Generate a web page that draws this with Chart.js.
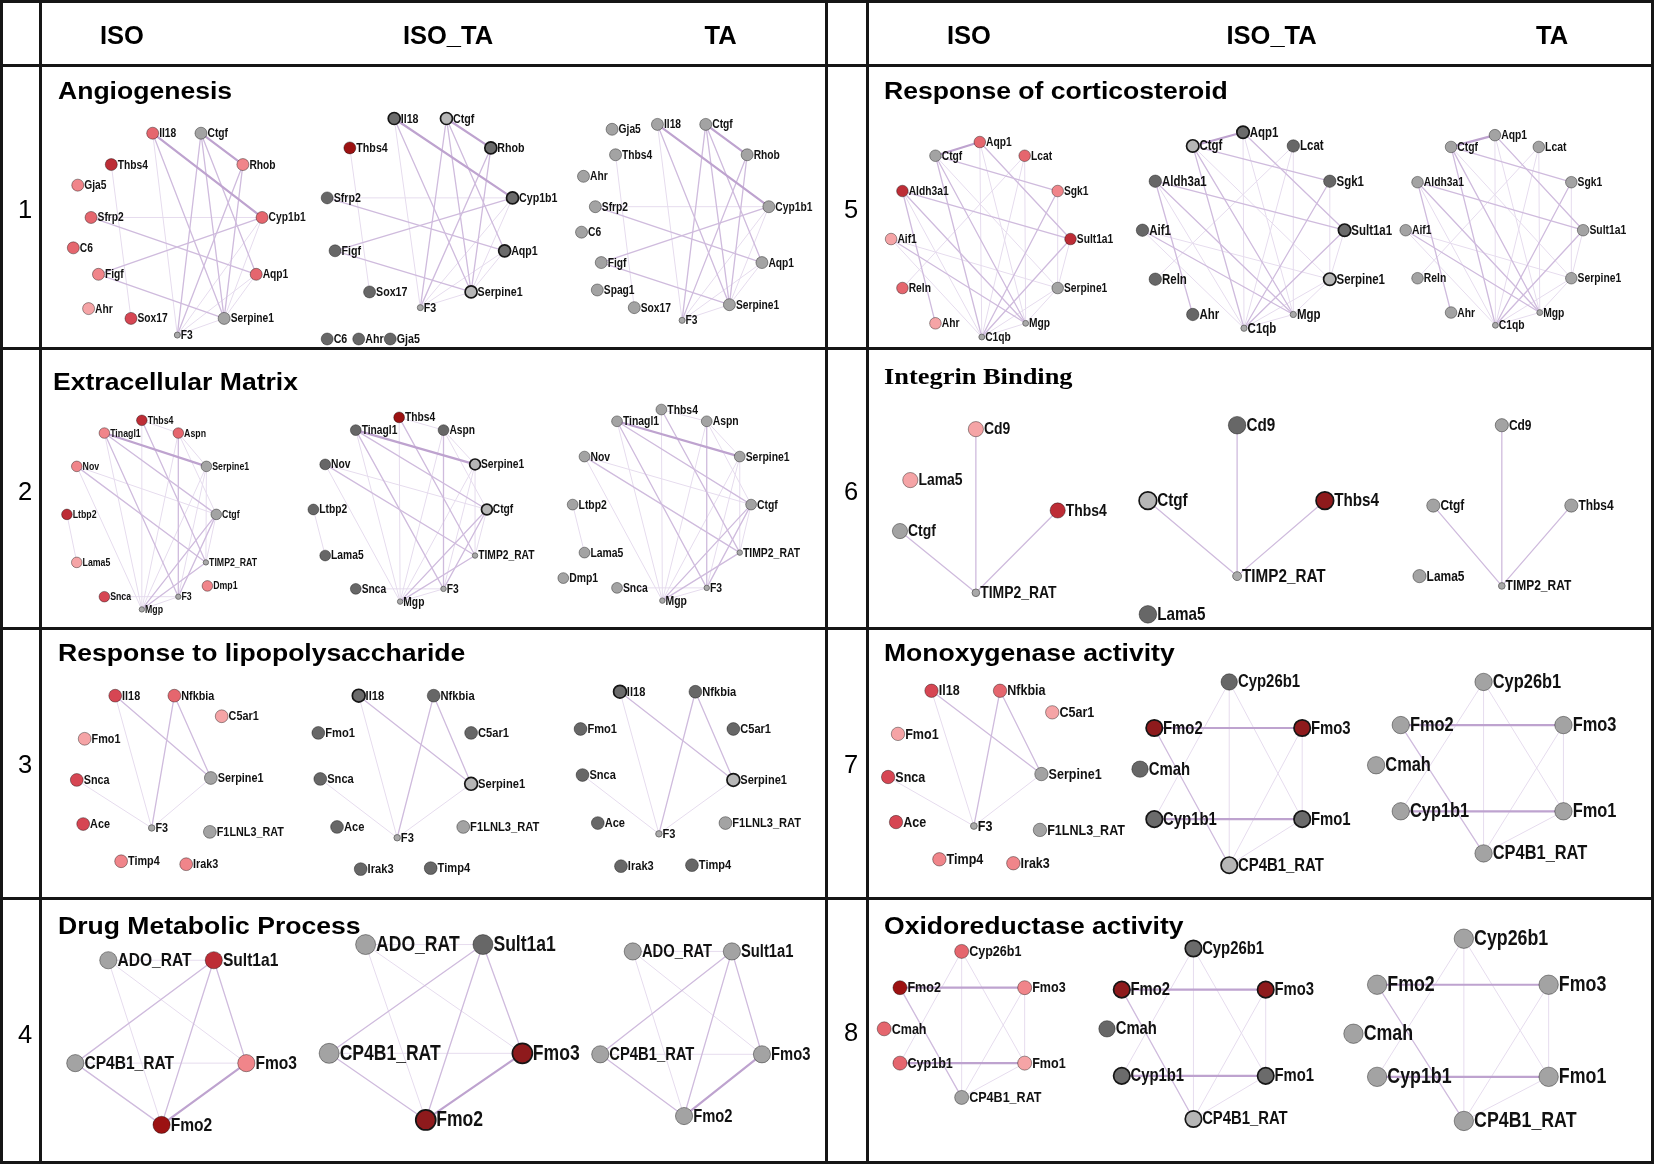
<!DOCTYPE html>
<html><head><meta charset="utf-8">
<script src="https://cdn.jsdelivr.net/npm/chart.js@4/dist/chart.umd.min.js"></script>
<style>
html,body{margin:0;padding:0;background:#fff;}
#wrap{position:relative;width:1654px;height:1164px;overflow:hidden;font-family:'Liberation Sans',Arial,sans-serif;color:#000;}
#c{position:absolute;left:0;top:0;}
.ln{position:absolute;background:#161616;}
.hd{position:absolute;font-weight:bold;font-size:25.5px;line-height:1;transform:translate(-50%,-50%);white-space:nowrap;}
.num{position:absolute;font-size:25.5px;line-height:1;transform:translate(-50%,-50%);}
.ttl{position:absolute;font-weight:bold;font-size:23.5px;line-height:1;transform-origin:0 50%;transform:translateY(-50%) scaleX(1.13);white-space:nowrap;}
.serif{font-family:'Liberation Serif','Times New Roman',serif;font-size:24px;transform:translateY(-50%) scaleX(1.1);}
</style></head>
<body><div id="wrap"><canvas id="c" width="1654" height="1164" style="width:1654px;height:1164px"></canvas></div>
<script>
// ---------------- DATA ----------------
const conditions = ['ISO', 'ISO_TA', 'TA'];
const panelNumbers = ['1', '2', '3', '4', '5', '6', '7', '8'];
const panelTitles = ['Angiogenesis', 'Extracellular Matrix', 'Response to lipopolysaccharide', 'Drug Metabolic Process',
  'Response of corticosteroid', 'Integrin Binding', 'Monoxygenase activity', 'Oxidoreductase activity'];

// node: [gene, layoutX, layoutY, expression class]
// classes: r0..r5 = up-regulated (light -> dark red), g = unchanged, d = down/other, L/D/R = highlighted, s = not measured
const angioISO = [['Il18',143,124,'r2'],['Ctgf',192,124,'g'],['Thbs4',101,156,'r4'],['Rhob',234.5,156,'r1'],['Gja5',67,177,'r1'],
  ['Sfrp2',80.5,210,'r2'],['Cyp1b1',254,210,'r2'],['C6',62.5,241,'r2'],['Figf',88,268,'r1'],['Aqp1',248,268,'r2'],
  ['Ahr',78,303,'r0'],['Sox17',121,313,'r3'],['Serpine1',215.5,313,'g'],['F3',168,330,'s']];
const angioISOTA = [['Il18',388,109,'D'],['Ctgf',441,109,'L'],['Thbs4',343,139,'r5'],['Rhob',486,139,'D'],['Sfrp2',320,190,'d'],
  ['Cyp1b1',508,190,'D'],['Figf',328,244,'d'],['Aqp1',500,244,'D'],['Sox17',363,286,'d'],['Serpine1',466,286,'L'],
  ['F3',414.5,302,'s'],['C6',320,334,'d'],['Ahr',352,334,'d'],['Gja5',384,334,'d']];
const angioTA = [['Gja5',609,120,'g'],['Il18',655,115,'g'],['Ctgf',704,115,'g'],['Thbs4',612.5,146,'g'],['Rhob',746,146,'g'],
  ['Ahr',580,168,'g'],['Sfrp2',592,199,'g'],['Cyp1b1',768,199,'g'],['C6',578,225,'g'],['Figf',598,256,'g'],
  ['Aqp1',761,256,'g'],['Spag1',594,284,'g'],['Sox17',631.5,302,'g'],['Serpine1',728,299,'g'],['F3',680,315,'s']];

const ecmISO = [['Thbs4',132,417,'r4'],['Tinagl1',94,430,'r1'],['Aspn',169,430,'r2'],['Nov',66,464,'r1'],['Serpine1',197.5,464,'g'],
  ['Ltbp2',56,513,'r4'],['Ctgf',207.5,513,'g'],['Lama5',66,562,'r0'],['TIMP2_RAT',197,562,'s'],['Dmp1',198.5,586,'r1'],
  ['Snca',94,597,'r3'],['F3',169,597,'s'],['Mgp',132,610,'s']];
const ecmISOTA = [['Thbs4',393,414,'r5'],['Tinagl1',349,427,'d'],['Aspn',438,427,'d'],['Nov',318,462,'d'],['Serpine1',470,462,'L'],
  ['Ltbp2',306,508,'d'],['Ctgf',482,508,'L'],['Lama5',318,555,'d'],['TIMP2_RAT',470,555,'s'],['Snca',349,589,'d'],
  ['F3',438,589,'s'],['Mgp',394,602,'s']];
const ecmTA = [['Thbs4',659,406,'g'],['Tinagl1',614,418,'g'],['Aspn',705,418,'g'],['Nov',581,454,'g'],['Serpine1',738.5,454,'g'],
  ['Ltbp2',569,503,'g'],['Ctgf',750,503,'g'],['Lama5',581,552,'g'],['TIMP2_RAT',738.5,552,'s'],['Dmp1',559.5,578,'g'],
  ['Snca',614,588,'g'],['F3',705,588,'s'],['Mgp',660,601,'s']];

const lpsISO = [['Il18',105,698,'r3'],['Nfkbia',165,698,'r2'],['C5ar1',213,719,'r0'],['Fmo1',74,742,'r0'],['Serpine1',202,782,'g'],
  ['Snca',66,784,'r3'],['Ace',72.5,829,'r3'],['F3',142,833,'s'],['F1LNL3_RAT',201,837,'g'],['Timp4',111,867,'r1'],['Irak3',177,870,'r1']];
const lpsISOTA = [['Il18',352,698,'D'],['Nfkbia',428,698,'d'],['Fmo1',311,736,'d'],['C5ar1',466,736,'d'],['Snca',313,783,'d'],
  ['Serpine1',466,788,'L'],['Ace',330,832,'d'],['F3',391,843,'s'],['F1LNL3_RAT',458,832,'g'],['Irak3',354,875,'d'],['Timp4',425,874,'d']];
const lpsTA = [['Il18',617,694,'D'],['Nfkbia',693.5,694,'d'],['Fmo1',577,732,'d'],['C5ar1',732,732,'d'],['Snca',579,779,'d'],
  ['Serpine1',732,784,'L'],['Ace',594.5,828,'d'],['F3',656.5,839,'s'],['F1LNL3_RAT',724,828,'g'],['Irak3',618,872,'d'],['Timp4',690,871,'d']];

const drugISO = [['ADO_RAT',98,968,'g'],['Sult1a1',205,968,'r4'],['CP4B1_RAT',64.5,1073,'g'],['Fmo3',238,1073,'r1'],['Fmo2',152,1136,'r5']];
const drugISOTA = [['ADO_RAT',359,952,'g'],['Sult1a1',478,952,'d'],['CP4B1_RAT',322,1063,'g'],['Fmo3',518,1063,'R'],['Fmo2',420,1131,'R']];
const drugTA = [['ADO_RAT',630,959,'g'],['Sult1a1',730.5,959,'g'],['CP4B1_RAT',597,1064,'g'],['Fmo3',761,1064,'g'],['Fmo2',682,1127,'g']];

const cortISO = [['Ctgf',937,147,'g'],['Aqp1',982,133,'r2'],['Lcat',1027.5,147,'r2'],['Aldh3a1',903.5,183,'r4'],['Sgk1',1061,183,'r1'],
  ['Aif1',892,232,'r0'],['Sult1a1',1074,232,'r4'],['Reln',903.5,282,'r2'],['Serpine1',1061,282,'g'],['Ahr',937,318,'r0'],
  ['Mgp',1028.5,318,'s'],['C1qb',984,332,'s']];
const cortISOTA = [['Aqp1',1249,123,'D'],['Ctgf',1198,137,'L'],['Lcat',1300,137,'d'],['Aldh3a1',1160,173,'d'],['Sgk1',1337,173,'d'],
  ['Aif1',1147,223,'d'],['Sult1a1',1352,223,'D'],['Reln',1160,273,'d'],['Serpine1',1337,273,'L'],['Ahr',1198,309,'d'],
  ['Mgp',1300,309,'s'],['C1qb',1250,323,'s']];
const cortTA = [['Aqp1',1504.5,126,'g'],['Ctgf',1460,138,'g'],['Lcat',1549,138,'g'],['Aldh3a1',1426,174,'g'],['Sgk1',1582,174,'g'],
  ['Aif1',1414,223,'g'],['Sult1a1',1594,223,'g'],['Reln',1426,272,'g'],['Serpine1',1582,272,'g'],['Ahr',1460,307,'g'],
  ['Mgp',1550,307,'s'],['C1qb',1505,320,'s']];

const intISO = [['Cd9',978,426,'r0'],['Lama5',911.5,478,'r0'],['Thbs4',1061,509,'r4'],['Ctgf',901,530,'g'],['TIMP2_RAT',978,593,'s']];
const intISOTA = [['Cd9',1243,422,'d'],['Ctgf',1152.5,499,'L'],['Thbs4',1332,499,'R'],['TIMP2_RAT',1243,576,'s'],['Lama5',1152.5,615,'d']];
const intTA = [['Cd9',1511.5,422,'g'],['Ctgf',1442,504,'g'],['Thbs4',1582,504,'g'],['Lama5',1428,576,'g'],['TIMP2_RAT',1511.5,586,'s']];

const monoISO = [['Il18',933,693,'r3'],['Nfkbia',1002.5,693,'r2'],['C5ar1',1055.5,715,'r0'],['Fmo1',899,737,'r0'],['Serpine1',1044.5,778,'g'],
  ['Snca',889,781,'r3'],['Ace',897,827,'r3'],['F3',976,831,'s'],['F1LNL3_RAT',1043,835,'g'],['Timp4',941,865,'r1'],['Irak3',1016,869,'r1']];
const monoISOTA = [['Cyp26b1',1235,684,'d'],['Fmo2',1159,731,'R'],['Fmo3',1309,731,'R'],['Cmah',1144.5,773,'d'],['Cyp1b1',1159,824,'D'],
  ['Fmo1',1309,824,'D'],['CP4B1_RAT',1235,871,'L']];
const monoTA = [['Cyp26b1',1493,684,'g'],['Fmo2',1409,728,'g'],['Fmo3',1574,728,'g'],['Cmah',1384,769,'g'],['Cyp1b1',1409,816,'g'],
  ['Fmo1',1574,816,'g'],['CP4B1_RAT',1493,859,'g']];

const oxiISO = [['Cyp26b1',963.6,959,'r2'],['Fmo2',901,996,'r5'],['Fmo3',1027.5,996,'r1'],['Cmah',885,1038,'r2'],['Cyp1b1',901,1073,'r2'],
  ['Fmo1',1027.5,1073,'r0'],['CP4B1_RAT',963.6,1108,'g']];
const oxiISOTA = [['Cyp26b1',1198.7,956,'D'],['Fmo2',1126,998,'R'],['Fmo3',1272,998,'R'],['Cmah',1111,1038,'d'],['Cyp1b1',1126,1086,'D'],
  ['Fmo1',1272,1086,'D'],['CP4B1_RAT',1198.7,1130,'L']];
const oxiTA = [['Cyp26b1',1473,946,'g'],['Fmo2',1385,993,'g'],['Fmo3',1559,993,'g'],['Cmah',1361,1043,'g'],['Cyp1b1',1385,1087,'g'],
  ['Fmo1',1559,1087,'g'],['CP4B1_RAT',1473,1132,'g']];

// edges: [geneA, geneB, interaction strength 1..3]
const angioEdges = [['Il18','Cyp1b1',3],['Il18','Serpine1',2],['Il18','F3',1],['Ctgf','Rhob',3],['Ctgf','F3',2],['Ctgf','Serpine1',2],
  ['Ctgf','Aqp1',2],['Rhob','F3',2],['Rhob','Serpine1',2],['Thbs4','Sox17',1],['Sfrp2','Cyp1b1',1],['Sfrp2','Aqp1',2],
  ['Figf','Cyp1b1',2],['Figf','Serpine1',2],['Cyp1b1','Serpine1',1],['Cyp1b1','F3',1],['Aqp1','F3',1],['Aqp1','Serpine1',1],['Serpine1','F3',1]];
const ecmEdges = [['Thbs4','Aspn',1],['Thbs4','Mgp',1],['Thbs4','TIMP2_RAT',2],['Tinagl1','Serpine1',3],['Tinagl1','Ctgf',2],
  ['Tinagl1','F3',2],['Tinagl1','Mgp',1],['Aspn','Serpine1',1],['Aspn','Ctgf',1],['Aspn','Mgp',1],
  ['Aspn','F3',2],['Nov','Ctgf',1],['Nov','TIMP2_RAT',2],['Serpine1','Mgp',1],['Serpine1','F3',1],
  ['Serpine1','TIMP2_RAT',1],['Ltbp2','Lama5',1],['Nov','Mgp',1],['Ctgf','Mgp',2],['Ctgf','F3',2],['Ctgf','TIMP2_RAT',1],
  ['Snca','F3',1],['Mgp','F3',1],['Mgp','TIMP2_RAT',2]];
const lpsEdges = [['Il18','Serpine1',2],['Il18','F3',1],['Nfkbia','F3',2],['Nfkbia','Serpine1',2],['Snca','F3',1],['Serpine1','F3',1]];
const drugEdges = [['ADO_RAT','Sult1a1',1],['ADO_RAT','Fmo2',1],['ADO_RAT','Fmo3',1],['Sult1a1','CP4B1_RAT',2],['Sult1a1','Fmo2',2],
  ['Sult1a1','Fmo3',2],['CP4B1_RAT','Fmo3',1],['CP4B1_RAT','Fmo2',2],['Fmo3','Fmo2',3]];
const cortEdges = [['Ctgf','Aqp1',3],['Ctgf','Sgk1',2],['Ctgf','C1qb',2],['Ctgf','Mgp',2],['Aqp1','Sult1a1',2],['Aqp1','C1qb',1],
  ['Aqp1','Mgp',1],['Lcat','Reln',1],['Lcat','Mgp',1],['Lcat','C1qb',1],['Aldh3a1','Sult1a1',2],['Aldh3a1','Ahr',2],
  ['Aldh3a1','Mgp',2],['Aldh3a1','C1qb',1],['Sgk1','C1qb',2],['Sgk1','Serpine1',1],['Aif1','Mgp',2],['Aif1','C1qb',1],
  ['Aif1','Serpine1',1],['Sult1a1','C1qb',2],['Sult1a1','Serpine1',1],['Serpine1','C1qb',1],['Serpine1','Mgp',1],['Mgp','C1qb',1],['Ctgf','Serpine1',1]];
const intEdges = [['Cd9','TIMP2_RAT',2],['Thbs4','TIMP2_RAT',2],['Ctgf','TIMP2_RAT',2]];
const monoEdges = [['Fmo2','Fmo3',3],['Cyp1b1','Fmo1',3],['Cyp26b1','Cyp1b1',1],['Cyp26b1','Fmo1',1],['Cyp26b1','CP4B1_RAT',1],
  ['Fmo2','CP4B1_RAT',2],['Fmo3','CP4B1_RAT',1],['Fmo3','Fmo1',1],['Fmo1','CP4B1_RAT',1]];

// ---------------- ASSEMBLY ----------------
const panelEdges = [angioEdges, ecmEdges, lpsEdges, drugEdges, cortEdges, intEdges, lpsEdges.concat(monoEdges), monoEdges];
const networks = [
  [angioISO,0],[angioISOTA,0],[angioTA,0], [ecmISO,1],[ecmISOTA,1],[ecmTA,1],
  [lpsISO,2],[lpsISOTA,2],[lpsTA,2], [drugISO,3],[drugISOTA,3],[drugTA,3],
  [cortISO,4],[cortISOTA,4],[cortTA,4], [intISO,5],[intISOTA,5],[intTA,5],
  [monoISO,6],[monoISOTA,6],[monoTA,6], [oxiISO,7],[oxiISOTA,7],[oxiTA,7]];

// ---------------- STYLE ----------------
const netStyle = [ // [node radius, label font px, label clip right (px or 0)] per network, same order as networks
  [6,12.5,0],[6,13,0],[6,12.5,0], [5.3,10.7,0],[5.4,12.5,0],[5.4,12.7,0],
  [6.4,13.2,0],[6.4,13.6,0],[6.4,13.5,0], [8.6,19,0],[10,21.4,0],[8.6,18,0],
  [5.8,12.5,0],[6.2,14,0],[5.8,12.6,0], [7.6,17,0],[8.8,18.6,0],[6.6,14.6,0],
  [6.7,15.3,1127],[8.2,18.2,0],[8.7,20,0], [7,15.3,0],[8.2,18.1,0],[9.7,21.7,0]];
const fillOf = {r0:'#f5a4a6',r1:'#f0858a',r2:'#e5666e',r3:'#d64653',r4:'#bd2d36',r5:'#9c1212',
  g:'#a3a3a3',d:'#676767',L:'#b6b6b6',D:'#6b6b6b',R:'#8e1a1c',s:'#a9a9a9'};
const edgeStyle = {1:['#e6dcee',1],2:['#cfbbdd',1.3],3:['#bea3cf',2.2]};

const headerX = [122,448,720.5,969,1271.6,1552], headerY = 36;
const numPos = [[25,210],[25,492],[25,765],[25,1035],[851,210],[851,492],[851,765],[851,1033]];
const titlePos = [[58,92],[53,383],[58,654],[58,927],[884,92],[884,376],[884,654],[884,927]];
const hLines = [0,64,347,627,897,1161], vLines = [0,39,825,866,1651];

// ---------------- HTML frame ----------------
const wrap = document.getElementById('wrap');
function el(cls, txt, css){ const d=document.createElement('div'); d.className=cls; if(txt!==null) d.textContent=txt; Object.assign(d.style, css); wrap.appendChild(d); return d; }
hLines.forEach(y=>el('ln',null,{left:'0px',top:y+'px',width:'1654px',height:'3px'}));
vLines.forEach(x=>el('ln',null,{left:x+'px',top:'0px',width:'3px',height:'1164px'}));
headerX.forEach((x,i)=>el('hd',conditions[i%3],{left:x+'px',top:headerY+'px'}));
numPos.forEach((p,i)=>el('num',panelNumbers[i],{left:p[0]+'px',top:p[1]+'px'}));
titlePos.forEach((p,i)=>el(i===5?'ttl serif':'ttl',panelTitles[i],{left:p[0]+'px',top:p[1]+'px'}));

// ---------------- Chart ----------------
const datasets = networks.map(([nodes,p],k)=>{
  const [r] = netStyle[k];
  const hl = n => (n[3]==='L'||n[3]==='D'||n[3]==='R');
  return {
    label: panelTitles[p]+' '+conditions[k%3],
    data: nodes.map(n=>({x:n[1], y:n[2], gene:n[0]})),
    pointRadius: nodes.map(n=> n[3]==='s' ? r*0.5 : r),
    pointHoverRadius: nodes.map(n=> n[3]==='s' ? r*0.5 : r),
    pointBackgroundColor: nodes.map(n=>fillOf[n[3]]),
    pointBorderColor: nodes.map(n=> hl(n) ? '#151515' : (n[3]==='s' ? '#6f6f6f' : 'rgba(0,0,0,0.38)')),
    pointBorderWidth: nodes.map(n=> hl(n) ? 1.7 : 1),
    showLine:false, clip:false
  };
});

const edgePlugin = {
  id:'edges',
  beforeDatasetsDraw(chart){
    const ctx = chart.ctx, xs = chart.scales.x, ys = chart.scales.y;
    ctx.save(); ctx.lineCap='round';
    networks.forEach(([nodes,p])=>{
      const pos = {}; nodes.forEach(n=>pos[n[0]]=n);
      const list = panelEdges[p].filter(e=>pos[e[0]]&&pos[e[1]]).sort((a,b)=>a[2]-b[2]);
      list.forEach(e=>{
        const a=pos[e[0]], b=pos[e[1]], st=edgeStyle[e[2]];
        ctx.strokeStyle=st[0]; ctx.lineWidth=st[1];
        ctx.beginPath();
        ctx.moveTo(xs.getPixelForValue(a[1]), ys.getPixelForValue(a[2]));
        ctx.lineTo(xs.getPixelForValue(b[1]), ys.getPixelForValue(b[2]));
        ctx.stroke();
      });
    });
    ctx.restore();
  }
};
const labelPlugin = {
  id:'nodeLabels',
  afterDatasetsDraw(chart){
    const ctx = chart.ctx;
    ctx.save(); ctx.fillStyle='#111'; ctx.textBaseline='middle'; ctx.textAlign='left';
    chart.data.datasets.forEach((ds,k)=>{
      const meta = chart.getDatasetMeta(k), fs = netStyle[k][1], clipR = netStyle[k][2];
      ctx.save();
      if (clipR) { ctx.beginPath(); ctx.rect(0,0,clipR,1164); ctx.clip(); }
      ctx.font = 'bold '+fs+'px "Liberation Sans", Arial, sans-serif';
      meta.data.forEach((pt,i)=>{
        const r = ds.pointRadius[i];
        ctx.save(); ctx.translate(pt.x + r + 0.5, pt.y + 0.5); ctx.scale(0.82,1);
        ctx.fillText(ds.data[i].gene, 0, 0); ctx.restore();
      });
      ctx.restore();
    });
    ctx.restore();
  }
};

new Chart(document.getElementById('c'), {
  type:'scatter',
  data:{datasets},
  options:{
    responsive:false, animation:false, events:[],
    layout:{padding:0},
    plugins:{legend:{display:false}, tooltip:{enabled:false}},
    scales:{
      x:{type:'linear', min:0, max:1654, display:false},
      y:{type:'linear', min:0, max:1164, reverse:true, display:false}
    }
  },
  plugins:[edgePlugin, labelPlugin]
});
</script></body></html>
